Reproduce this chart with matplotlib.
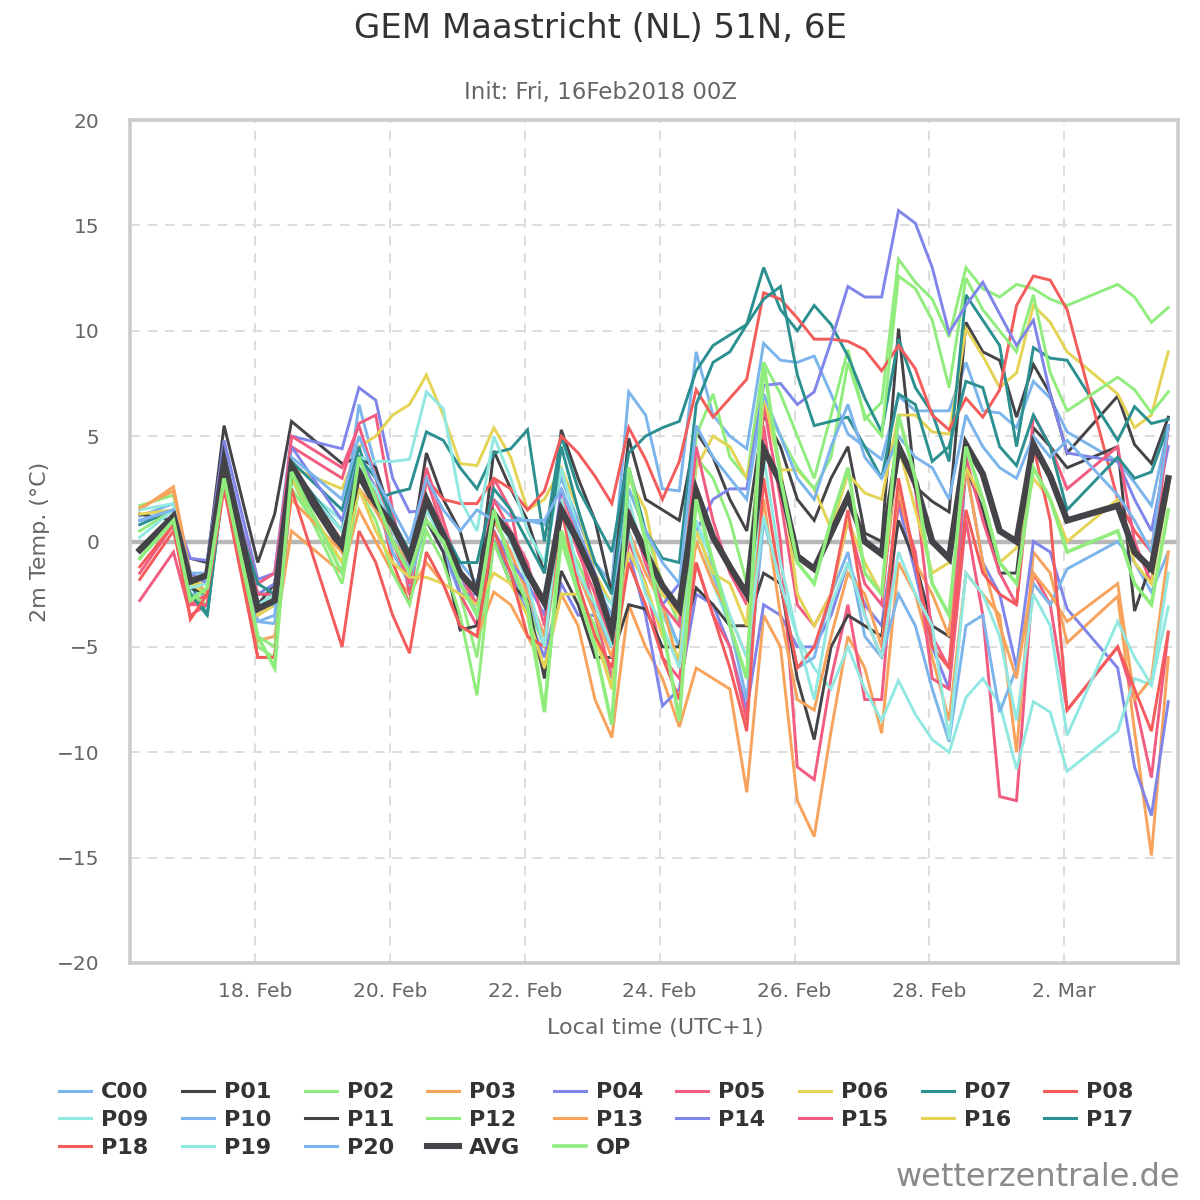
import matplotlib
matplotlib.use("Agg")
import matplotlib.pyplot as plt
from matplotlib.lines import Line2D

# hours since 16 Feb 2018 00:00 local time (UTC+1), steps as drawn in the chart
hours = [7, 19, 25, 31, 37, 49, 55, 61, 79] + list(range(85, 338, 6)) + [355, 361, 367, 373]

tick_hours = [48, 96, 144, 192, 240, 288, 336]
tick_labels = ['18. Feb', '20. Feb', '22. Feb', '24. Feb', '26. Feb', '28. Feb', '2. Mar']

# 2m temperature (deg C) per member
c00 = [1.2, 1.8, -1.5, -1.9, 3.5, -3.8, -3.9, 3.2,
       0.5, 6.5, 3.5, 0.5, -1.2, 1.5, 0.6, -1.0,
       -2.0, 2.0, 1.2, 1.0, 0.8, 3.0, 1.0, -1.0,
       -2.0, 7.1, 6.0, 2.5, 2.4, 9.0, 6.0, 5.0,
       4.4, 9.4, 8.6, 8.5, 8.8, 7.0, 5.1, 4.5,
       3.9, 6.9, 6.2, 6.2, 6.2, 8.5, 6.2, 6.1,
       5.4, 7.6, 6.8, 5.2, 3.8, 2.8, 1.7, 5.4]
p01 = [1.3, 1.0, -0.8, -1.0, 5.5, -1.0, 1.3, 5.7,
       3.7, 4.0, 3.5, 1.0, -0.9, 4.2, 2.0, 0.5,
       -2.5, 4.3, 2.5, 1.0, -1.5, 5.3, 3.0, 1.0,
       -2.5, 4.9, 2.0, 1.5, 1.0, 5.2, 4.0, 2.0,
       0.5, 6.0, 4.5, 2.0, 1.0, 3.0, 4.5, 0.4,
       0.0, 10.1, 2.6, 1.9, 1.4, 10.4, 9.0, 8.6,
       5.9, 8.4, 7.0, 4.2, 6.9, 4.6, 3.7, 5.9]
p02 = [1.7, 2.2, -2.0, -2.5, 2.8, -5.0, -5.5, 2.5,
       -1.0, 3.5, 2.0, -0.5, -2.0, 1.5, 0.0, -2.5,
       -5.5, 0.5, -1.5, -3.0, -5.0, 0.5, -1.0, -3.0,
       -5.0, 2.5, 0.5, -2.0, -4.0, 5.0, 7.0, 4.0,
       3.0, 8.5, 7.0, 5.0, 3.0, 6.0, 9.1, 5.8,
       6.6, 13.4, 12.3, 11.5, 9.7, 13.0, 12.0, 11.6,
       12.2, 12.0, 11.5, 11.2, 12.2, 11.6, 10.4, 11.1]
p03 = [1.5, 2.6, -1.5, -2.5, 3.0, -4.7, -4.5, 0.5,
       -1.5, 1.5, 0.0, -1.5, -2.5, -1.0, -2.0, -4.0,
       -4.5, -2.4, -3.0, -4.5, -6.0, -2.5, -4.0, -7.5,
       -9.3, -3.0, -5.0, -6.5, -8.8, -6.0, -6.5, -7.0,
       -11.9, -3.5, -5.0, -12.3, -14.0, -9.0, -4.5, -6.0,
       -9.1, -1.0, -2.5, -5.5, -8.5, -1.5, -2.5, -3.5,
       -10.0, -0.5, -1.5, -4.8, -2.6, -9.0, -14.9, -5.5]
p04 = [1.0, 1.5, -0.8, -0.9, 4.8, -1.8, -1.5, 5.0,
       4.4, 7.3, 6.7, 3.0, 1.4, 1.5, 0.5, -1.5,
       -3.5, 0.0, -1.5, -3.5, -5.5, -2.0, -3.5, -3.5,
       -5.0, -0.5, -3.5, -7.8, -7.0, -2.5, -3.0, -5.0,
       -8.0, -3.0, -3.5, -5.0, -5.0, -3.5, -1.0, -3.0,
       -4.0, 1.8, -1.5, -5.0, -7.0, 3.5, -1.0, -2.5,
       -6.0, 0.0, -0.5, -3.2, -6.0, -10.7, -13.0, -7.6]
p05 = [-2.8, -0.5, -3.5, -3.0, 3.5, -2.0, -1.5, 4.5,
       3.0, 5.6, 6.0, 1.5, -2.5, 3.0, 0.5, -2.5,
       -4.0, 3.0, 1.5, -2.5, -4.5, 2.5, 0.0, -3.5,
       -6.5, 0.0, -2.0, -5.5, -6.5, -1.0, -3.5, -5.0,
       -8.5, 5.5, 0.0, -10.7, -11.3, -6.5, -3.0, -7.5,
       -7.5, 2.0, -0.5, -6.5, -7.0, 1.0, -3.5, -12.1,
       -12.3, -1.5, -3.0, -8.0, -5.0, -7.5, -11.2, -4.3]
p06 = [1.3, 1.5, -2.0, -2.0, 3.5, -3.0, -2.5, 3.5,
       2.5, 4.5, 5.0, 6.0, 6.5, 7.9, 6.0, 3.7,
       3.6, 5.4, 4.0, 1.5, 2.0, 3.5, 1.5, -1.5,
       -3.0, 3.0, 1.5, -2.5, -3.5, 3.5, 5.0, 4.5,
       3.0, 6.8, 3.4, 3.4, 2.5, 0.6, 3.2, 2.3,
       2.0, 6.0, 6.0, 5.2, 5.1, 10.1, 8.8, 7.3,
       8.0, 11.2, 10.4, 9.0, 7.0, 5.4, 6.0, 9.0]
p07 = [0.8, 1.5, -2.0, -3.5, 3.0, -2.5, -2.5, 3.8,
       1.5, 4.5, 2.0, 2.3, 2.5, 5.2, 4.8, 3.5,
       2.5, 4.2, 4.4, 5.3, 0.0, 5.0, 2.5, 1.0,
       -0.5, 4.2, 5.0, 5.4, 5.7, 8.1, 9.3, 9.8,
       10.3, 13.0, 11.0, 10.0, 11.2, 10.3, 8.8, 6.8,
       5.2, 9.6, 7.3, 6.1, 3.8, 11.7, 10.5, 9.3,
       4.5, 9.2, 8.7, 8.6, 4.8, 6.4, 5.6, 5.8]
p08 = [-1.8, 0.5, -3.0, -2.5, 3.0, -5.5, -5.5, 3.5,
       0.0, 4.0, 2.5, -1.0, -3.0, 3.0, 2.0, 1.8,
       1.8, 3.0, 2.5, 1.5, 2.4, 5.0, 4.2, 3.1,
       1.8, 5.4, 3.9, 2.0, 3.8, 7.2, 5.9, 6.8,
       7.7, 11.8, 11.5, 10.6, 9.6, 9.6, 9.5, 9.1,
       8.1, 9.3, 8.2, 6.0, 5.3, 6.8, 5.9, 7.2,
       11.2, 12.6, 12.4, 11.0, 2.0, 0.5, -0.5, 5.5]
p09 = [1.5, 1.8, -2.0, -2.5, 3.0, -3.5, -3.0, 3.0,
       1.0, 4.0, 3.8, 3.8, 3.9, 7.1, 6.3, 2.0,
       0.5, 5.0, 3.0, 0.5, -1.0, 3.5, 0.5, -2.0,
       -3.0, 2.0, -1.0, -3.5, -5.0, 1.0, -2.0, -4.0,
       -6.5, 4.0, -1.0, -4.5, -6.0, -7.0, -5.0, -7.0,
       -8.5, -6.6, -8.2, -9.4, -10.0, -7.4, -6.5, -7.7,
       -10.8, -7.6, -8.1, -10.9, -9.0, -6.5, -6.8, -3.1]
p10 = [-0.5, 1.0, -2.5, -2.5, 3.5, -3.8, -3.5, 3.0,
       0.0, 3.0, 2.0, -0.5, -2.0, 1.0, -0.5, -2.5,
       -3.0, 1.0, -0.5, -2.5, -5.0, 1.5, -1.5, -3.5,
       -5.0, 1.5, -1.0, -3.0, -5.0, 2.5, -1.5, -4.0,
       -7.5, 1.0, -2.0, -6.0, -5.5, -2.5, -0.5, -4.5,
       -5.5, -2.5, -4.0, -7.0, -9.5, -4.0, -3.5, -8.1,
       -6.0, -2.0, -3.0, -1.3, 0.0, -1.0, -2.4, -0.5]
p11 = [-0.3, 1.0, -2.2, -2.5, 3.0, -3.0, -2.0, 3.2,
       -0.5, 3.0, 1.5, 0.0, -1.5, 1.0, -0.5, -4.2,
       -4.0, 0.0, -2.0, -2.8, -6.5, -1.4, -3.0, -5.5,
       -5.5, -3.0, -3.2, -5.0, -5.0, -2.2, -3.0, -4.0,
       -4.0, -1.5, -2.0, -6.5, -9.4, -5.0, -3.5, -4.0,
       -4.5, 1.0, -1.0, -4.0, -4.5, 3.5, 1.5, -1.5,
       -1.5, 5.4, 4.5, 3.5, 4.5, -3.3, -1.0, 5.5]
p12 = [0.5, 1.5, -2.5, -3.0, 3.0, -4.5, -5.0, 3.0,
       -2.0, 2.5, 1.0, -1.5, -3.0, 0.5, -1.0, -3.5,
       -7.3, 0.0, -2.0, -3.5, -8.0, 0.0, -2.5, -4.0,
       -7.0, 3.5, 0.0, -3.0, -6.0, 4.0, 3.0, 1.0,
       -2.0, 6.5, 5.0, 3.5, 2.5, 4.0, 8.5, 6.0,
       5.0, 12.6, 12.0, 10.5, 7.3, 12.5, 11.0, 10.0,
       9.0, 11.7, 8.0, 6.2, 7.8, 7.2, 6.1, 7.1]
p13 = [1.6, 2.4, -1.5, -2.0, 3.5, -3.5, -3.0, 2.0,
       -0.5, 2.5, 1.5, 0.0, -1.0, 1.5, 0.5, -2.0,
       -3.0, 1.0, -0.5, -2.5, -4.5, 0.5, -1.5, -3.5,
       -5.5, 0.5, -1.5, -3.0, -6.0, 0.0, -2.0, -3.5,
       -5.5, 2.0, -3.5, -7.5, -8.0, -4.5, -1.5, -2.5,
       -5.0, 2.5, -1.0, -2.5, -4.5, 3.5, -1.0, -4.0,
       -6.5, -1.5, -2.5, -3.8, -2.0, -7.5, -6.5, -0.5]
p14 = [1.0, 1.5, -1.5, -2.0, 4.2, -2.5, -2.0, 4.5,
       1.0, 4.0, 2.5, 1.0, -0.5, 2.0, 0.0, -2.5,
       -2.5, 0.5, -1.0, -2.0, -3.5, 2.5, 0.5, -1.5,
       -4.0, 1.5, -1.0, -3.0, -2.0, 0.5, 2.0, 2.5,
       2.5, 7.4, 7.5, 6.5, 7.1, 9.5, 12.1, 11.6,
       11.6, 15.7, 15.1, 13.0, 9.9, 11.2, 12.3, 10.8,
       9.3, 10.5, 7.0, 4.2, 3.8, 2.0, 0.5, 4.5]
p15 = [-1.5, 0.8, -3.0, -3.0, 3.0, -2.5, -2.5, 5.0,
       3.5, 5.5, 3.0, 0.0, -2.0, 3.5, 1.0, -1.5,
       -3.0, 2.0, 0.5, -1.0, -4.0, 2.0, -0.5, -2.5,
       -5.0, 1.5, -1.0, -3.0, -4.0, 4.5, 1.0, -1.5,
       -3.0, 6.5, 2.0, -3.0, -4.0, -2.5, 1.0, -2.0,
       -3.0, 4.5, 2.5, -4.5, -6.0, 4.0, 1.0, -1.5,
       -3.0, 6.0, 4.5, 2.5, 4.5, 0.0, -2.0, 5.5]
p16 = [-0.5, 1.0, -2.0, -2.5, 3.0, -3.5, -3.0, 3.0,
       -1.0, 2.5, 0.5, -1.0, -1.7, -1.7, -2.0, -2.5,
       -3.0, -1.5, -2.0, -3.5, -6.0, -2.5, -2.5, -4.5,
       -7.0, -0.5, -2.0, -4.5, -5.5, 0.5, -1.5, -2.0,
       -4.0, 7.0, 3.5, -2.5, -4.0, -2.5, 1.0, -1.0,
       -2.5, 4.5, 1.5, -1.5, -1.0, 3.5, 2.0, -1.0,
       -0.3, 3.0, 2.0, 0.0, 2.0, -1.0, -2.0, 2.5]
p17 = [-0.5, 1.0, -2.5, -3.5, 3.0, -2.0, -2.5, 3.5,
       0.5, 4.0, 3.0, 1.0, -0.5, 2.0, 0.5, -1.0,
       -1.0, 2.5, 1.5, 0.0, -1.5, 4.5, 1.5, -1.0,
       -2.5, 3.5, 0.5, -0.8, -1.0, 6.5, 8.5, 9.0,
       10.3, 11.5, 12.1, 7.9, 5.5, 5.7, 5.9, 4.5,
       3.0, 7.0, 6.5, 3.8, 4.5, 7.6, 7.3, 4.5,
       3.6, 6.0, 4.5, 1.5, 4.0, 3.0, 3.3, 5.5]
p18 = [-1.2, 0.8, -3.7, -2.5, 2.5, -5.5, -5.5, 2.5,
       -5.0, 0.5, -1.0, -3.5, -5.3, -0.5, -2.0, -4.0,
       -4.5, 0.5, -1.5, -4.5, -5.0, 1.5, -2.0, -4.5,
       -6.0, -1.0, -3.0, -5.5, -7.5, -1.0, -3.5, -6.0,
       -9.0, 3.0, -2.0, -6.0, -5.0, -2.5, 1.5, -3.5,
       -5.5, 3.0, -1.0, -5.0, -6.0, 1.5, -1.5, -2.5,
       -3.0, 4.5, 1.0, -8.0, -5.0, -7.0, -9.0, -4.3]
p19 = [0.2, 1.5, -2.2, -2.0, 3.5, -3.0, -2.5, 3.3,
       0.5, 3.5, 2.5, 0.5, -1.0, 1.5, 0.0, -2.0,
       -3.5, 1.5, 0.0, -2.0, -5.0, 2.0, -1.5, -3.0,
       -5.0, 0.5, -2.5, -4.0, -6.0, 1.0, -1.0, -3.5,
       -5.5, 1.2, -2.0, -4.5, -7.5, -3.0, -1.0, -3.5,
       -5.5, -0.5, -2.5, -4.0, -9.4, -1.5, -2.5, -4.5,
       -8.5, -2.5, -4.0, -9.2, -3.8, -5.5, -6.8, -1.5]
p20 = [1.0, 1.5, -1.5, -1.5, 4.0, -3.0, -3.0, 4.0,
       2.0, 5.0, 3.0, 1.5, 0.0, 3.0, 1.5, 0.5,
       1.5, 1.0, 1.0, 1.0, 1.0, 2.5, 0.5, -2.0,
       -3.5, 2.5, 0.5, -1.0, -2.0, 5.5, 4.0, 3.0,
       2.0, 7.0, 5.0, 3.0, 2.0, 4.5, 6.5, 4.0,
       3.0, 5.0, 4.0, 3.5, 2.0, 6.0, 4.5, 3.5,
       3.0, 5.0, 4.0, 4.8, 2.2, 1.0, -0.5, 5.5]
avg = [-0.4, 1.2, -1.9, -1.6, 3.8, -3.2, -2.8, 3.6,
       -0.2, 3.3, 1.8, 0.8, -0.8, 2.0, 0.3, -1.5,
       -2.4, 1.3, 0.3, -1.5, -2.9, 1.5, 0.0, -1.8,
       -4.3, 1.2, -0.5, -2.1, -3.2, 2.4, 0.2, -1.2,
       -2.5, 4.4, 2.8, -0.7, -1.3, 0.4, 2.1, 0.0,
       -0.6, 4.5, 2.8, 0.0, -0.8, 4.6, 3.2, 0.5,
       0.0, 4.6, 3.1, 1.0, 1.7, -0.5, -1.3, 3.0]
op = [-0.8, 1.0, -2.8, -2.2, 3.0, -4.5, -6.0, 3.3,
      -1.5, 4.0, 2.0, 0.0, -1.5, 1.0, 0.0, -2.0,
      -3.5, 1.5, -1.0, -3.0, -8.1, 0.5, -2.5, -5.0,
      -8.7, 3.5, 0.0, -4.0, -8.5, 2.0, -1.0, -4.0,
      -6.5, 8.5, 3.0, -1.0, -2.0, 1.0, 3.5, -1.5,
      -2.5, 6.0, 3.0, -2.0, -3.5, 4.5, 2.0, -1.0,
      -2.0, 3.5, 2.0, -0.5, 0.5, -2.0, -3.0, 1.5]

palette = ['#7cb5ec', '#434348', '#90ed7d', '#f7a35c', '#8085e9',
           '#f15c80', '#e4d354', '#2b908f', '#f45b5b', '#91e8e1']

members = [c00, p01, p02, p03, p04, p05, p06, p07, p08, p09, p10,
           p11, p12, p13, p14, p15, p16, p17, p18, p19, p20]
names = ['C00'] + ['P%02d' % i for i in range(1, 21)]

series = [(n, v, palette[i % 10], 2.1) for i, (n, v) in enumerate(zip(names, members))]
series.append(('AVG', avg, '#434348', 4.6))
series.append(('OP', op, '#90ed7d', 2.6))

fig = plt.figure(figsize=(12, 12), dpi=100)
ax = fig.add_axes([0.1085, 0.1975, 0.8735, 0.7025])

handles = []
for name, vals, col, lw in series:
    ax.plot(hours, vals, color=col, lw=lw, zorder=3, solid_joinstyle='miter')
    hl = 4.4 if name == 'AVG' else (2.6 if name == 'OP' else 2.2)
    handles.append(Line2D([], [], color=col, lw=hl, label=name))

ax.axhline(0, color='#b8b8b8', lw=3.2, zorder=2)

ax.set_xlim(3.6, 376.6)
ax.set_ylim(-20, 20)
ax.set_xticks(tick_hours)
ax.set_xticklabels(tick_labels)
ax.set_yticks(range(-20, 21, 5))

for t in tick_hours:
    ax.axvline(t, color='#dddddd', lw=1.4, ls=(0, (5, 4)), zorder=1)
for y in range(-15, 16, 5):
    ax.axhline(y, color='#dddddd', lw=1.4, ls=(0, (5, 4)), zorder=1)

for s in ax.spines.values():
    s.set_color('#cccccc')
    s.set_linewidth(2.6)

ax.tick_params(axis='both', length=0, labelsize=14.5, labelcolor='#666666')
ax.tick_params(axis='y', pad=22)
ax.tick_params(axis='x', pad=14)

fig.text(0.5, 1 - 28 / 1200, 'GEM Maastricht (NL) 51N, 6E', ha='center', va='center',
         fontsize=24.5, color='#333333')
fig.text(0.5, 1 - 92 / 1200, 'Init: Fri, 16Feb2018 00Z', ha='center', va='center',
         fontsize=16.5, color='#666666')
fig.text(40 / 1200, 1 - 542 / 1200, '2m Temp. (°C)', rotation=90, ha='center', va='center',
         fontsize=16, color='#666666')
fig.text(655 / 1200, 1 - 1028 / 1200, 'Local time (UTC+1)', ha='center', va='center',
         fontsize=16, color='#666666')
fig.text(1180 / 1200, 1 - 1178 / 1200, 'wetterzentrale.de', ha='right', va='center',
         fontsize=23, color='#8a8a8a')

# legend reads row by row, matplotlib fills columns first
ncol = 9
order = []
for j in range(ncol):
    k = j
    while k < len(handles):
        order.append(handles[k])
        k += ncol
leg = fig.legend(handles=order, loc='center', bbox_to_anchor=(0.497, 1 - 1120 / 1200), ncol=ncol,
                 frameon=False, prop={'weight': 'bold', 'size': 16}, handlelength=1.44,
                 handletextpad=0.45, columnspacing=1.5, labelspacing=0.34)
for txt in leg.get_texts():
    txt.set_color('#333333')

fig.savefig('out.png', dpi=100)
